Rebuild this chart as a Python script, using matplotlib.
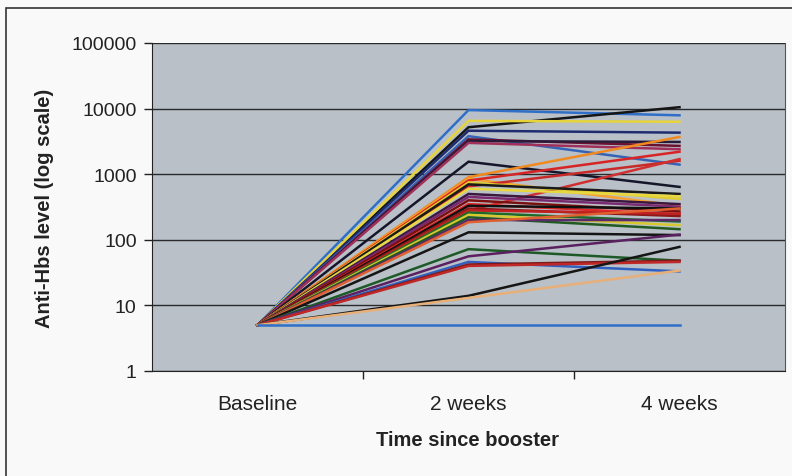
import matplotlib
matplotlib.use("Agg")
import matplotlib.pyplot as plt
from matplotlib.patches import Rectangle

plt.rcParams['font.family'] = ['Liberation Sans', 'DejaVu Sans']

# Time points and antibody levels per subject
timepoints = ["Baseline", "2 weeks", "4 weeks"]
baseline = 5
week2 = [9500, 5200, 6500, 4600, 3800, 3400, 3200, 3000, 1550, 900, 850,
         800, 650, 280, 750, 700, 600, 500, 450, 400, 350, 330, 300, 280,
         260, 240, 220, 200, 185, 130, 72, 56, 46, 42, 40, 14, 13, 5]
week4 = [7900, 10500, 6300, 4300, 1400, 2700, 3100, 2400, 640, 3700, 330,
         2200, 1600, 1700, 420, 500, 460, 350, 320, 270, 245, 300, 230, 250,
         190, 167, 145, 200, 300, 118, 48, 120, 33, 48, 46, 78, 34, 5]
colors = ["#2f6fc8", "#151515", "#e6d43a", "#1f2d70", "#3563b5", "#6b1230",
          "#2a1a3a", "#a0305a", "#16162a", "#f08a20", "#f5a030", "#d82424",
          "#c82a2a", "#d03030", "#e0cc30", "#1a1a1a", "#e8d840", "#3a1840",
          "#7a2a70", "#7a1010", "#e02828", "#101010", "#8a1a1a", "#c02020",
          "#1e6a2a", "#d8c830", "#205a20", "#5a2a6a", "#e06030", "#151515",
          "#1e5a28", "#5a2060", "#3060c0", "#7a1a1a", "#c02828", "#151515",
          "#e8b078", "#2f6fc8"]

fig = plt.figure(figsize=(7.92, 4.77), dpi=100, facecolor="#f9f9f9")
ax = fig.add_axes([152/792, 1 - 372/477, (785 - 152)/792, (372 - 44)/477])
ax.set_facecolor("#b9c0c8")

x = list(range(len(timepoints)))
for w2, w4, c in zip(week2, week4, colors):
    ax.plot(x, [baseline, w2, w4], color=c, lw=1.8, solid_joinstyle="miter", zorder=3)

ax.set_yscale("log")
ax.set_ylim(1, 100000)
ax.set_xlim(-0.5, 2.5)
yticks = [1, 10, 100, 1000, 10000, 100000]
ax.set_yticks(yticks)
ax.set_yticklabels([str(v) for v in yticks], fontsize=14, color="#222222")
ax.yaxis.set_minor_locator(matplotlib.ticker.NullLocator())
ax.grid(axis="y", which="major", color="#2a2a2a", lw=1.0, zorder=1)

ax.set_xticks([0.5, 1.5])
ax.set_xticklabels([])
ax.tick_params(axis="x", length=6, width=1, color="#222222", direction="out")
ax.tick_params(axis="y", length=6, width=1, color="#222222", direction="out", pad=5)
for i, lab in enumerate(timepoints):
    ax.text(i, -0.1, lab, transform=ax.get_xaxis_transform(), ha="center",
            va="center", fontsize=15, color="#222222")

for side in ["top", "right"]:
    ax.spines[side].set_visible(False)
ax.spines["left"].set_color("#222222")
ax.spines["bottom"].set_color("#222222")
ax.spines["right"].set_visible(True)
ax.spines["right"].set_color("#555555")
ax.spines["right"].set_linewidth(0.8)

fig.text(468/792, 1 - 441/477, "Time since booster", ha="center", va="center",
         fontsize=14.5, fontweight="bold", color="#222222")
fig.text(45/792, 1 - 208/477, "Anti-Hbs level (log scale)", ha="center",
         va="center", rotation=90, fontsize=14.5, fontweight="bold", color="#222222")

# outer chart frame
fig.patches.append(Rectangle((6/792, -0.05), 1.0, 1 - 9/477 + 0.05,
                             transform=fig.transFigure, fill=False,
                             edgecolor="#333333", lw=1.2))

fig.savefig("out.png", dpi=100, facecolor=fig.get_facecolor())
